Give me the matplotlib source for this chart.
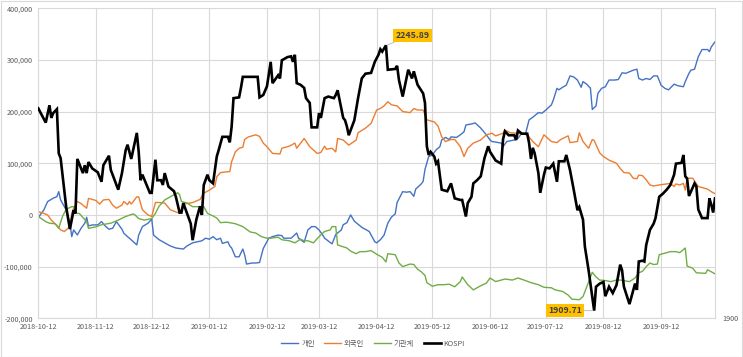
import numpy as np
import pandas as pd
import matplotlib
matplotlib.use("Agg")
import matplotlib.pyplot as plt
from matplotlib.ticker import FuncFormatter
from matplotlib.patches import Rectangle

plt.rcParams['font.family'] = ['Noto Sans CJK KR', 'DejaVu Sans']

# cumulative net buying (left axis)
indiv_pts = [
    ("2018-10-12", -6000), ("2018-10-13", 0), ("2018-10-15", 9700), ("2018-10-17", 25800),
    ("2018-10-20", 32300), ("2018-10-22", 35400), ("2018-10-23", 45100), ("2018-10-24", 29000),
    ("2018-10-27", 9700), ("2018-10-29", -16100), ("2018-10-30", -41900), ("2018-10-31", -29000),
    ("2018-11-02", -38700), ("2018-11-04", -25800), ("2018-11-06", -16100), ("2018-11-07", -4500),
    ("2018-11-08", -21300), ("2018-11-10", -19300), ("2018-11-13", -19300), ("2018-11-15", -12900),
    ("2018-11-17", -21300), ("2018-11-19", -27700), ("2018-11-21", -25800), ("2018-11-23", -12900),
    ("2018-11-26", -27700), ("2018-11-27", -35400), ("2018-11-29", -42000), ("2018-11-30", -45000),
    ("2018-12-04", -58000), ("2018-12-05", -39000), ("2018-12-07", -22600), ("2018-12-10", -16000),
    ("2018-12-12", -8000), ("2018-12-13", -39000), ("2018-12-16", -48000), ("2018-12-22", -60000),
    ("2018-12-25", -64000), ("2018-12-29", -66000), ("2018-12-31", -60000), ("2019-01-03", -54000),
    ("2019-01-08", -50000), ("2019-01-10", -45000), ("2019-01-12", -47000), ("2019-01-14", -42000),
    ("2019-01-16", -48000), ("2019-01-18", -45000), ("2019-01-19", -55000), ("2019-01-22", -52000),
    ("2019-01-23", -60000), ("2019-01-24", -64000), ("2019-01-26", -81000), ("2019-01-28", -81000),
    ("2019-01-30", -66000), ("2019-01-31", -77000), ("2019-02-01", -95000), ("2019-02-04", -93000),
    ("2019-02-06", -93000), ("2019-02-08", -92000), ("2019-02-10", -65000), ("2019-02-13", -45000),
    ("2019-02-15", -42000), ("2019-02-18", -39000), ("2019-02-20", -40000), ("2019-02-21", -45000),
    ("2019-02-25", -45000), ("2019-02-28", -35000), ("2019-03-01", -45000), ("2019-03-04", -53000),
    ("2019-03-06", -29000), ("2019-03-08", -22600), ("2019-03-10", -22600), ("2019-03-12", -29000),
    ("2019-03-14", -39000), ("2019-03-15", -45000), ("2019-03-19", -56000), ("2019-03-21", -38000),
    ("2019-03-24", -29000), ("2019-03-25", -19000), ("2019-03-27", -15000), ("2019-03-29", 0),
    ("2019-03-31", -12000), ("2019-04-04", -24000), ("2019-04-08", -32000), ("2019-04-11", -52000),
    ("2019-04-12", -54000), ("2019-04-14", -48000), ("2019-04-16", -39000), ("2019-04-18", -16000),
    ("2019-04-20", -4000), ("2019-04-22", 2000), ("2019-04-23", 24000), ("2019-04-26", 45000),
    ("2019-04-28", 44000), ("2019-04-30", 45000), ("2019-05-02", 36000), ("2019-05-03", 50000),
    ("2019-05-06", 60000), ("2019-05-07", 65000), ("2019-05-08", 88000), ("2019-05-10", 113000),
    ("2019-05-12", 116000), ("2019-05-14", 126000), ("2019-05-16", 132000), ("2019-05-17", 145000),
    ("2019-05-19", 150000), ("2019-05-21", 146000), ("2019-05-22", 151000), ("2019-05-25", 150000),
    ("2019-05-27", 155000), ("2019-05-29", 161000), ("2019-05-30", 174000), ("2019-06-02", 176000),
    ("2019-06-04", 178000), ("2019-06-07", 168000), ("2019-06-10", 155000), ("2019-06-12", 145000),
    ("2019-06-13", 142000), ("2019-06-15", 141000), ("2019-06-18", 139000), ("2019-06-19", 132000),
    ("2019-06-21", 142000), ("2019-06-25", 145000), ("2019-06-27", 148000), ("2019-06-29", 158000),
    ("2019-07-01", 156000), ("2019-07-03", 184000), ("2019-07-05", 189000), ("2019-07-08", 198000),
    ("2019-07-10", 197000), ("2019-07-12", 203000), ("2019-07-15", 213000), ("2019-07-16", 222000),
    ("2019-07-18", 245000), ("2019-07-19", 242000), ("2019-07-21", 247000), ("2019-07-23", 251000),
    ("2019-07-25", 269000), ("2019-07-27", 267000), ("2019-07-29", 261000), ("2019-07-31", 247000),
    ("2019-08-01", 258000), ("2019-08-03", 253000), ("2019-08-05", 245000), ("2019-08-06", 204000),
    ("2019-08-08", 211000), ("2019-08-09", 235000), ("2019-08-11", 245000), ("2019-08-13", 248000),
    ("2019-08-15", 261000), ("2019-08-18", 261000), ("2019-08-20", 262000), ("2019-08-22", 275000),
    ("2019-08-24", 274000), ("2019-08-26", 277000), ("2019-08-28", 280000), ("2019-08-30", 282000),
    ("2019-08-31", 264000), ("2019-09-02", 261000), ("2019-09-04", 264000), ("2019-09-06", 262000),
    ("2019-09-08", 269000), ("2019-09-10", 269000), ("2019-09-12", 251000), ("2019-09-14", 245000),
    ("2019-09-16", 242000), ("2019-09-19", 253000), ("2019-09-21", 250000), ("2019-09-24", 248000),
    ("2019-09-25", 258000), ("2019-09-27", 274000), ("2019-09-28", 280000), ("2019-09-30", 282000),
    ("2019-10-02", 306000), ("2019-10-04", 320000), ("2019-10-07", 320000), ("2019-10-08", 316000),
    ("2019-10-09", 325000), ("2019-10-11", 335000),
]

foreign_pts = [
    ("2018-10-12", 6400), ("2018-10-15", 3000), ("2018-10-17", 0), ("2018-10-19", -10000),
    ("2018-10-21", -17000), ("2018-10-22", -20000), ("2018-10-24", -29000), ("2018-10-26", -32000),
    ("2018-10-29", -22600), ("2018-10-30", 3000), ("2018-10-31", 13000), ("2018-11-02", 26000),
    ("2018-11-04", 22000), ("2018-11-07", 13000), ("2018-11-08", 32000), ("2018-11-12", 28000),
    ("2018-11-14", 21000), ("2018-11-16", 29000), ("2018-11-19", 30000), ("2018-11-21", 19000),
    ("2018-11-23", 13000), ("2018-11-26", 19000), ("2018-11-27", 26000), ("2018-11-29", 20000),
    ("2018-11-30", 26000), ("2018-12-01", 21000), ("2018-12-04", 35000), ("2018-12-05", 35000),
    ("2018-12-07", 10000), ("2018-12-10", 0), ("2018-12-12", -3000), ("2018-12-14", 24000),
    ("2018-12-16", 24000), ("2018-12-19", 23000), ("2018-12-22", 10000), ("2018-12-27", 3000),
    ("2018-12-29", 21000), ("2019-01-03", 24000), ("2019-01-07", 30000), ("2019-01-09", 42000),
    ("2019-01-12", 48000), ("2019-01-15", 55000), ("2019-01-16", 74000), ("2019-01-18", 82000),
    ("2019-01-23", 84000), ("2019-01-24", 103000), ("2019-01-26", 122000), ("2019-01-28", 129000),
    ("2019-01-30", 131000), ("2019-01-31", 146000), ("2019-02-02", 151000), ("2019-02-06", 155000),
    ("2019-02-08", 152000), ("2019-02-10", 139000), ("2019-02-12", 132000), ("2019-02-15", 119000),
    ("2019-02-19", 118000), ("2019-02-20", 129000), ("2019-02-24", 133000), ("2019-02-27", 139000),
    ("2019-02-28", 129000), ("2019-03-04", 148000), ("2019-03-07", 132000), ("2019-03-11", 119000),
    ("2019-03-13", 121000), ("2019-03-15", 133000), ("2019-03-16", 127000), ("2019-03-19", 129000),
    ("2019-03-21", 122000), ("2019-03-22", 148000), ("2019-03-25", 145000), ("2019-03-28", 135000),
    ("2019-04-01", 145000), ("2019-04-02", 159000), ("2019-04-06", 168000), ("2019-04-09", 177000),
    ("2019-04-12", 203000), ("2019-04-14", 206000), ("2019-04-16", 211000), ("2019-04-18", 219000),
    ("2019-04-20", 213000), ("2019-04-23", 211000), ("2019-04-26", 200000), ("2019-04-30", 198000),
    ("2019-05-02", 206000), ("2019-05-04", 203000), ("2019-05-07", 203000), ("2019-05-09", 184000),
    ("2019-05-13", 180000), ("2019-05-15", 172000), ("2019-05-17", 151000), ("2019-05-19", 142000),
    ("2019-05-22", 146000), ("2019-05-24", 146000), ("2019-05-27", 132000), ("2019-05-29", 113000),
    ("2019-05-31", 129000), ("2019-06-03", 139000), ("2019-06-07", 145000), ("2019-06-10", 155000),
    ("2019-06-13", 158000), ("2019-06-15", 153000), ("2019-06-19", 158000), ("2019-06-20", 164000),
    ("2019-06-23", 159000), ("2019-06-27", 158000), ("2019-07-02", 155000), ("2019-07-05", 142000),
    ("2019-07-08", 132000), ("2019-07-11", 155000), ("2019-07-15", 142000), ("2019-07-18", 140000),
    ("2019-07-20", 146000), ("2019-07-24", 153000), ("2019-07-25", 140000), ("2019-07-29", 142000),
    ("2019-07-30", 159000), ("2019-08-01", 142000), ("2019-08-04", 129000), ("2019-08-06", 146000),
    ("2019-08-07", 144000), ("2019-08-10", 120000), ("2019-08-12", 113000), ("2019-08-15", 106000),
    ("2019-08-19", 100000), ("2019-08-21", 90000), ("2019-08-23", 82000), ("2019-08-26", 81000),
    ("2019-08-28", 71000), ("2019-08-30", 70000), ("2019-08-31", 77000), ("2019-09-02", 76000),
    ("2019-09-04", 68000), ("2019-09-06", 58000), ("2019-09-08", 56000), ("2019-09-11", 58000),
    ("2019-09-15", 60000), ("2019-09-17", 61000), ("2019-09-19", 55000), ("2019-09-20", 60000),
    ("2019-09-22", 58000), ("2019-09-24", 61000), ("2019-09-25", 48000), ("2019-09-26", 71000),
    ("2019-09-29", 71000), ("2019-10-02", 55000), ("2019-10-04", 53000), ("2019-10-07", 50000),
    ("2019-10-09", 45000), ("2019-10-11", 41000),
]

inst_pts = [
    ("2018-10-12", -3000), ("2018-10-14", -8000), ("2018-10-16", -13000), ("2018-10-18", -16000),
    ("2018-10-21", -17000), ("2018-10-23", -26000), ("2018-10-25", -3000), ("2018-10-27", 11000),
    ("2018-10-30", 16000), ("2018-10-31", 16000), ("2018-11-01", 3000), ("2018-11-03", 3000),
    ("2018-11-05", -5000), ("2018-11-07", -13000), ("2018-11-08", -26000), ("2018-11-12", -23000),
    ("2018-11-15", -19000), ("2018-11-20", -16000), ("2018-11-24", -10000), ("2018-11-28", -3000),
    ("2018-12-02", 2000), ("2018-12-03", 0), ("2018-12-05", -7000), ("2018-12-08", -10000),
    ("2018-12-12", -7000), ("2018-12-14", 3000), ("2018-12-16", 17000), ("2018-12-19", 29000),
    ("2018-12-21", 33000), ("2018-12-24", 39000), ("2018-12-26", 43000), ("2018-12-27", 39000),
    ("2018-12-28", 26000), ("2018-12-31", 23000), ("2019-01-03", 16000), ("2019-01-06", 16000),
    ("2019-01-09", 16000), ("2019-01-11", 3000), ("2019-01-14", -2000), ("2019-01-16", -6000),
    ("2019-01-18", -15000), ("2019-01-21", -14000), ("2019-01-23", -15000), ("2019-01-26", -17000),
    ("2019-01-30", -22600), ("2019-02-03", -33000), ("2019-02-06", -35000), ("2019-02-09", -42000),
    ("2019-02-12", -45000), ("2019-02-14", -45000), ("2019-02-18", -43000), ("2019-02-20", -48000),
    ("2019-02-24", -50000), ("2019-02-27", -54000), ("2019-03-02", -47000), ("2019-03-04", -50000),
    ("2019-03-06", -50000), ("2019-03-09", -54000), ("2019-03-12", -42000), ("2019-03-15", -32000),
    ("2019-03-18", -29000), ("2019-03-19", -22600), ("2019-03-21", -22600), ("2019-03-22", -58000),
    ("2019-03-27", -64000), ("2019-03-29", -70000), ("2019-04-01", -75000), ("2019-04-03", -71000),
    ("2019-04-06", -71000), ("2019-04-09", -69000), ("2019-04-12", -76000), ("2019-04-15", -82000),
    ("2019-04-17", -91000), ("2019-04-18", -75000), ("2019-04-22", -77000), ("2019-04-24", -93000),
    ("2019-04-26", -100000), ("2019-04-30", -95000), ("2019-05-02", -96000), ("2019-05-04", -105000),
    ("2019-05-06", -110000), ("2019-05-08", -117000), ("2019-05-09", -131000), ("2019-05-12", -138000),
    ("2019-05-15", -135000), ("2019-05-18", -135000), ("2019-05-21", -134000), ("2019-05-24", -139000),
    ("2019-05-27", -129000), ("2019-05-28", -120000), ("2019-05-31", -135000), ("2019-06-03", -145000),
    ("2019-06-07", -137000), ("2019-06-10", -132000), ("2019-06-12", -122000), ("2019-06-15", -129000),
    ("2019-06-20", -124000), ("2019-06-24", -126000), ("2019-06-27", -122000), ("2019-07-01", -127000),
    ("2019-07-04", -131000), ("2019-07-08", -135000), ("2019-07-11", -140000), ("2019-07-15", -141000),
    ("2019-07-17", -145000), ("2019-07-21", -148000), ("2019-07-24", -155000), ("2019-07-26", -163000),
    ("2019-07-30", -164000), ("2019-08-01", -158000), ("2019-08-03", -139000), ("2019-08-06", -111000),
    ("2019-08-08", -120000), ("2019-08-10", -126000), ("2019-08-13", -127000), ("2019-08-16", -129000),
    ("2019-08-19", -126000), ("2019-08-21", -126000), ("2019-08-26", -129000), ("2019-08-29", -122000),
    ("2019-08-31", -112000), ("2019-09-02", -109000), ("2019-09-04", -100000), ("2019-09-06", -93000),
    ("2019-09-08", -96000), ("2019-09-10", -95000), ("2019-09-11", -77000), ("2019-09-14", -74000),
    ("2019-09-17", -71000), ("2019-09-20", -71000), ("2019-09-22", -73000), ("2019-09-25", -64000),
    ("2019-09-26", -99000), ("2019-09-29", -103000), ("2019-10-01", -112000), ("2019-10-06", -113000),
    ("2019-10-07", -106000), ("2019-10-11", -114000),
]

# KOSPI index (right axis)
kospi_pts = [
    ("2018-10-12", 2166), ("2018-10-16", 2148), ("2018-10-18", 2170), ("2018-10-19", 2154),
    ("2018-10-20", 2160), ("2018-10-22", 2165), ("2018-10-23", 2109), ("2018-10-24", 2103),
    ("2018-10-27", 2041), ("2018-10-29", 2013), ("2018-10-30", 2025), ("2018-10-31", 2037),
    ("2018-11-01", 2033), ("2018-11-02", 2102), ("2018-11-05", 2084), ("2018-11-06", 2094),
    ("2018-11-07", 2084), ("2018-11-08", 2098), ("2018-11-10", 2090), ("2018-11-13", 2085),
    ("2018-11-15", 2073), ("2018-11-16", 2094), ("2018-11-19", 2106), ("2018-11-20", 2088),
    ("2018-11-24", 2063), ("2018-11-26", 2084), ("2018-11-28", 2113), ("2018-11-29", 2120),
    ("2018-12-01", 2102), ("2018-12-04", 2135), ("2018-12-05", 2111), ("2018-12-06", 2075),
    ("2018-12-07", 2082), ("2018-12-11", 2059), ("2018-12-12", 2059), ("2018-12-14", 2101),
    ("2018-12-15", 2075), ("2018-12-17", 2075), ("2018-12-18", 2069), ("2018-12-19", 2084),
    ("2018-12-21", 2067), ("2018-12-24", 2061), ("2018-12-25", 2054), ("2018-12-27", 2034),
    ("2018-12-28", 2034), ("2018-12-29", 2046), ("2018-12-31", 2033), ("2019-01-02", 2020),
    ("2019-01-03", 1999), ("2019-01-05", 2025), ("2019-01-07", 2042), ("2019-01-08", 2031),
    ("2019-01-09", 2069), ("2019-01-11", 2082), ("2019-01-12", 2075), ("2019-01-14", 2071),
    ("2019-01-16", 2105), ("2019-01-17", 2113), ("2019-01-19", 2130), ("2019-01-22", 2130),
    ("2019-01-23", 2123), ("2019-01-24", 2143), ("2019-01-25", 2179), ("2019-01-28", 2180),
    ("2019-01-29", 2192), ("2019-01-30", 2206), ("2019-02-03", 2206), ("2019-02-07", 2206),
    ("2019-02-08", 2180), ("2019-02-10", 2183), ("2019-02-12", 2194), ("2019-02-14", 2225),
    ("2019-02-15", 2198), ("2019-02-18", 2208), ("2019-02-19", 2204), ("2019-02-20", 2227),
    ("2019-02-23", 2231), ("2019-02-25", 2232), ("2019-02-26", 2225), ("2019-02-27", 2234),
    ("2019-02-28", 2198), ("2019-03-02", 2196), ("2019-03-04", 2192), ("2019-03-05", 2179),
    ("2019-03-07", 2173), ("2019-03-08", 2142), ("2019-03-11", 2142), ("2019-03-12", 2160),
    ("2019-03-13", 2154), ("2019-03-15", 2179), ("2019-03-17", 2181), ("2019-03-20", 2179),
    ("2019-03-21", 2183), ("2019-03-22", 2189), ("2019-03-25", 2154), ("2019-03-26", 2151),
    ("2019-03-27", 2143), ("2019-03-28", 2132), ("2019-03-31", 2151), ("2019-04-02", 2179),
    ("2019-04-04", 2204), ("2019-04-06", 2210), ("2019-04-09", 2211), ("2019-04-11", 2225),
    ("2019-04-13", 2234), ("2019-04-14", 2241), ("2019-04-15", 2238), ("2019-04-17", 2245.89),
    ("2019-04-18", 2215), ("2019-04-22", 2216), ("2019-04-23", 2220), ("2019-04-24", 2202),
    ("2019-04-26", 2181), ("2019-04-29", 2215), ("2019-05-01", 2204), ("2019-05-02", 2213),
    ("2019-05-04", 2196), ("2019-05-07", 2185), ("2019-05-08", 2173), ("2019-05-09", 2118),
    ("2019-05-10", 2107), ("2019-05-11", 2111), ("2019-05-13", 2105), ("2019-05-14", 2096),
    ("2019-05-15", 2099), ("2019-05-17", 2063), ("2019-05-20", 2061), ("2019-05-22", 2071),
    ("2019-05-24", 2052), ("2019-05-27", 2050), ("2019-05-28", 2050), ("2019-05-30", 2029),
    ("2019-05-31", 2046), ("2019-06-02", 2054), ("2019-06-03", 2071), ("2019-06-05", 2075),
    ("2019-06-07", 2080), ("2019-06-09", 2103), ("2019-06-11", 2118), ("2019-06-12", 2111),
    ("2019-06-15", 2100), ("2019-06-18", 2096), ("2019-06-19", 2127), ("2019-06-20", 2137),
    ("2019-06-22", 2132), ("2019-06-25", 2132), ("2019-06-26", 2126), ("2019-06-27", 2138),
    ("2019-06-29", 2134), ("2019-07-02", 2134), ("2019-07-03", 2122), ("2019-07-04", 2102),
    ("2019-07-05", 2116), ("2019-07-06", 2109), ("2019-07-08", 2084), ("2019-07-09", 2059),
    ("2019-07-11", 2082), ("2019-07-12", 2091), ("2019-07-14", 2090), ("2019-07-16", 2096),
    ("2019-07-18", 2073), ("2019-07-19", 2099), ("2019-07-22", 2099), ("2019-07-23", 2107),
    ("2019-07-25", 2088), ("2019-07-27", 2063), ("2019-07-29", 2037), ("2019-07-30", 2041),
    ("2019-08-01", 2025), ("2019-08-02", 1991), ("2019-08-04", 1961), ("2019-08-07", 1909.71),
    ("2019-08-08", 1940), ("2019-08-10", 1944), ("2019-08-12", 1946), ("2019-08-13", 1928),
    ("2019-08-15", 1940), ("2019-08-17", 1932), ("2019-08-19", 1942), ("2019-08-21", 1968),
    ("2019-08-22", 1961), ("2019-08-23", 1940), ("2019-08-26", 1918), ("2019-08-29", 1944),
    ("2019-08-30", 1936), ("2019-08-31", 1972), ("2019-09-02", 1973), ("2019-09-03", 1972),
    ("2019-09-04", 1993), ("2019-09-06", 2012), ("2019-09-08", 2020), ("2019-09-09", 2027),
    ("2019-09-11", 2054), ("2019-09-13", 2058), ("2019-09-15", 2063), ("2019-09-17", 2069),
    ("2019-09-19", 2082), ("2019-09-20", 2096), ("2019-09-23", 2097), ("2019-09-24", 2107),
    ("2019-09-25", 2080), ("2019-09-26", 2077), ("2019-09-27", 2055), ("2019-09-30", 2071),
    ("2019-10-01", 2067), ("2019-10-02", 2038), ("2019-10-04", 2027), ("2019-10-07", 2027),
    ("2019-10-08", 2052), ("2019-10-09", 2044), ("2019-10-10", 2034), ("2019-10-11", 2052),
]

names = ["개인", "외국인", "기관계", "KOSPI"]
colors = ["#4472C4", "#ED7D31", "#70AD47", "#000000"]
tick_dates = ["2018-10-12", "2018-11-12", "2018-12-12", "2019-01-12", "2019-02-12", "2019-03-12",
              "2019-04-12", "2019-05-12", "2019-06-12", "2019-07-12", "2019-08-12", "2019-09-12"]
peak_label = "2245.89"
low_label = "1909.71"


def split(pts):
    d = pd.to_datetime([p[0] for p in pts])
    v = np.array([p[1] for p in pts], dtype=float)
    return d, v


grid_c = "#d9d9d9"
txt_c = "#595959"

fig = plt.figure(figsize=(7.43, 3.57), dpi=100)
ax = fig.add_axes([38.3 / 743, 1 - 318.3 / 357, (715 - 38.3) / 743, (318.3 - 8.2) / 357])
ax2 = ax.twinx()

handles = []
for pts, c, n in zip([indiv_pts, foreign_pts, inst_pts], colors[:3], names[:3]):
    d, v = split(pts)
    h, = ax.plot(d, v, color=c, lw=1.0, label=n)
    handles.append(h)

kd, kv = split(kospi_pts)
hk, = ax2.plot(kd, kv, color="black", lw=1.9, label=names[3], solid_joinstyle="miter")
handles.append(hk)

ax.set_ylim(-200000, 400000)
ax.set_yticks(np.arange(-200000, 400001, 100000))
ax.yaxis.set_major_formatter(FuncFormatter(lambda x, p: "{:,.0f}".format(x)))
ax.set_xlim(pd.Timestamp("2018-10-12"), pd.Timestamp("2019-10-11"))
ax.set_xticks(pd.to_datetime(tick_dates))
ax.set_xticklabels(tick_dates)
ax.grid(True, color=grid_c, lw=0.8)
ax.set_axisbelow(True)
ax.tick_params(length=0, labelsize=5.2, colors=txt_c)
ax.tick_params(axis="y", pad=4)
ax.tick_params(axis="x", pad=3.5)

ax2.set_ylim(1900, 2293)
ax2.set_yticks([1900])
ax2.tick_params(length=0, labelsize=5.2, colors=txt_c, pad=5.5)

for a in (ax, ax2):
    for s in a.spines.values():
        s.set_visible(False)
ax.spines["left"].set_visible(True)
ax.spines["left"].set_color(grid_c)
ax.spines["right"].set_visible(True)
ax.spines["right"].set_color(grid_c)
ax.spines["bottom"].set_visible(True)
ax.spines["bottom"].set_color(grid_c)

# label boxes
box = dict(boxstyle="square,pad=0.25", fc="#FFC000", ec="none")
ax2.annotate(peak_label, xy=(pd.Timestamp("2019-04-17"), 2245.89), xytext=(19, 7),
             textcoords="offset points", ha="center", va="center", fontsize=6.3,
             fontweight="bold", color="#404040", bbox=box,
             arrowprops=dict(arrowstyle="-", color="#bfbfbf", lw=0.7, shrinkA=0, shrinkB=1))
ax2.annotate(low_label, xy=(pd.Timestamp("2019-08-07"), 1909.71), xytext=(-21, 0),
             textcoords="offset points", ha="center", va="center", fontsize=6.3,
             fontweight="bold", color="#404040", bbox=box,
             arrowprops=dict(arrowstyle="-", color="#bfbfbf", lw=0.7, shrinkA=0, shrinkB=1))

fig.legend(handles=handles, labels=names, loc="center", bbox_to_anchor=(0.502, 1 - 344 / 357),
           ncol=4, frameon=False, fontsize=5.3, handlelength=2.3, handletextpad=0.4,
           columnspacing=1.3, labelcolor=txt_c)

fig.patches.append(Rectangle((0.5 / 743, 0.5 / 357), 741.5 / 743, 355.5 / 357, transform=fig.transFigure,
                             fill=False, ec=grid_c, lw=0.8))

fig.savefig("out.png", dpi=100)
